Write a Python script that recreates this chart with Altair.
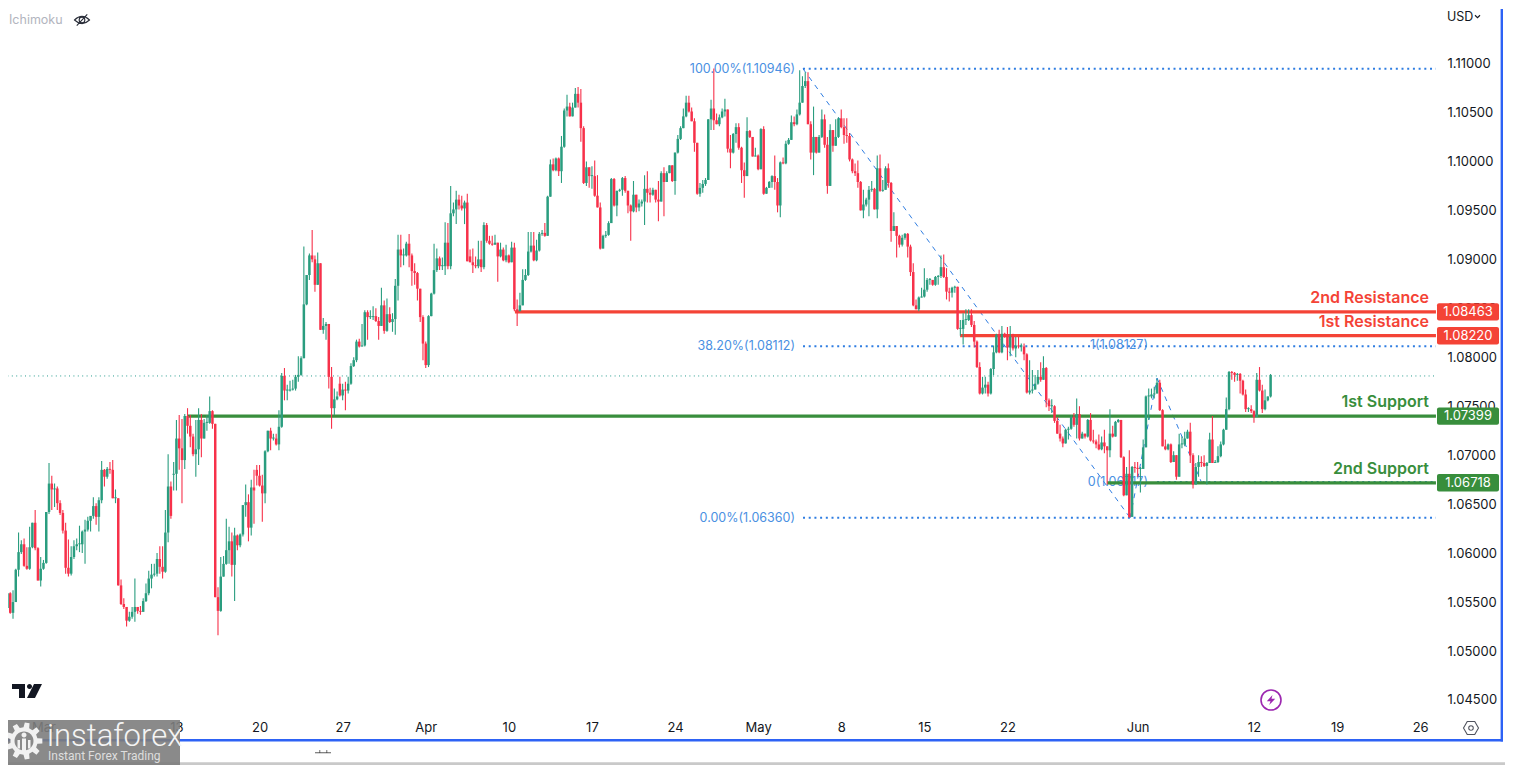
import math
import altair as alt
import pandas as pd

# ---- candle data, in 0.0001 price units (EURUSD 4H) ----
closes = [
10544,10559,10539,10550,10583,10601,10609,10587,10584,10606,
10631,10605,10572,10584,10590,10642,10671,10665,10666,10651,
10641,10623,10585,10579,10596,10607,10609,10609,10622,10624,
10633,10638,10648,10637,10654,10685,10678,10686,10685,10656,
10656,10567,10548,10545,10531,10535,10540,10545,10541,10540,
10551,10559,10574,10578,10579,10594,10586,10581,10621,10668,
10638,10681,10717,10707,10695,10740,10730,10719,10701,10706,
10736,10717,10733,10733,10745,10732,10555,10541,10576,10589,
10603,10612,10588,10618,10608,10619,10649,10652,10626,10667,
10664,10679,10669,10661,10704,10725,10717,10717,10711,10729,
10781,10766,10766,10767,10768,10780,10782,10799,10854,10884,
10904,10900,10874,10896,10828,10832,10834,10780,10748,10757,
10760,10761,10767,10766,10773,10791,10797,10816,10811,10812,
10846,10841,10841,10842,10837,10832,10853,10827,10844,10836,
10839,10873,10910,10904,10904,10916,10904,10888,10886,10870,
10841,10814,10792,10842,10865,10889,10901,10893,10893,10917,
10893,10947,10951,10961,10955,10952,10958,10898,10897,10894,
10893,10900,10892,10935,10919,10916,10915,10917,10903,10910,
10899,10904,10897,10912,10849,10847,10853,10879,10884,10908,
10914,10899,10909,10926,10927,10924,10964,10997,10991,11003,
10990,11015,11052,11056,11046,11055,11069,11060,11034,10978,
10994,10985,10985,10965,10953,10911,10924,10925,10937,10982,
10955,10970,10971,10983,10970,10955,10949,10966,10953,10957,
10959,10972,10968,10966,10971,10961,10959,10988,10979,10988,
10996,
10980,11009,11023,11034,11046,11060,11051,11041,11019,10967,
10973,10977,10981,11043,11054,11042,11038,11045,11051,11053,
11013,11009,11028,11035,11014,10991,10985,11031,11025,11005,
11006,10992,11033,10967,10973,10979,10985,10979,10955,10999,
10998,11018,11022,11040,11038,11048,11060,11077,11082,11038,
11009,11025,11009,11025,11043,11017,10975,11032,11016,11025,
11044,11035,11027,11026,11002,10990,10988,10979,10950,10956,
10961,10971,10972,10951,10993,10970,10971,10993,10978,10929,
10934,10924,10915,10922,10926,10913,10887,10853,10849,10861,
10862,10869,10879,10879,10874,10882,10883,10892,10882,10867,
10866,10871,10872,10829,10829,10838,10838,10843,10833,10816,
10790,10763,10769,10772,10763,10788,10805,10823,10805,10824,
10821,10810,10821,10809,10812,10811,10811,10803,10764,10766,
10767,10773,10780,10777,10789,10756,10750,10750,10735,10722,
10717,10712,10726,10727,10739,10731,10742,10717,10722,10719,
10736,10715,10714,10711,10706,10713,10709,10705,10722,10719,
10734,10736,10698,10659,10681,10637,10688,10687,10686,10686,
10708,10760,10760,10762,10763,10774,10746,10709,10706,10711,
10693,10700,10678,10711,10711,10717,10724,10700,10670,
10688,10693,10692,10689,10692,10716,10692,10693,10699,10711,
10726,10747,10785,10784,10782,10783,10776,10762,10747,10747,
10745,10739,10777,10766,10747,10756,10760,10782]

highs = [
10555,10559,10560,10562,10584,10621,10613,10615,10606,10627,
10631,10644,10606,10596,10593,10642,10692,10679,10671,10668,
10654,10644,10631,10614,10607,10613,10615,10628,10623,10634,
10637,10638,10657,10651,10657,10694,10686,10688,10693,10695,
10665,10656,10573,10554,10545,10540,10545,10574,10545,10546,
10554,10569,10582,10589,10589,10600,10607,10607,10644,10701,
10673,10693,10736,10741,10737,10742,10748,10741,10722,10736,
10748,10742,10737,10741,10760,10746,10732,10565,10596,10597,
10635,10627,10621,10626,10619,10620,10649,10670,10660,10675,
10685,10690,10690,10680,10705,10725,10728,10722,10722,10746,
10784,10789,10772,10776,10777,10782,10801,10801,10913,10884,
10906,10930,10904,10907,10896,10840,10836,10834,10790,10768,
10765,10780,10773,10775,10780,10794,10800,10818,10819,10834,
10848,10848,10848,10852,10850,10841,10871,10858,10860,10851,
10845,10880,10925,10925,10911,10918,10926,10906,10896,10887,
10870,10843,10816,10843,10866,10916,10911,10903,10902,10938,
10937,10975,10958,10970,10966,10965,10960,10967,10910,10911,
10903,10919,10919,10938,10937,10924,10924,10925,10917,10917,
10912,10915,10905,10918,10917,10859,10866,10890,10890,10928,
10928,10928,10920,10928,10930,10937,10965,11002,11003,11004,
11004,11026,11054,11068,11060,11060,11075,11076,11074,11036,
11000,10993,10995,11001,10986,10958,10925,10929,10939,10983,
10983,10970,10972,10984,10985,10970,10956,10980,10966,10961,
10961,10986,10990,10973,10973,10971,10980,10990,10994,10990,
10996,
10996,11009,11027,11036,11054,11067,11067,11055,11044,11019,
10978,10981,10983,11043,11063,11095,11049,11048,11054,11064,
11053,11027,11029,11039,11039,11015,10999,11045,11032,11025,
11014,11007,11034,11036,10974,10980,10986,11006,10983,11000,
11004,11021,11024,11047,11046,11053,11093,11087,11091,11091,
11041,11056,11025,11027,11053,11048,11025,11038,11032,11043,
11045,11053,11044,11044,11029,11003,10998,11001,10980,10971,
10963,10975,10980,10973,11006,11007,10981,10995,10998,10979,
10948,10934,10925,10925,10927,10927,10915,10896,10859,10862,
10871,10891,10881,10881,10879,10883,10884,10904,10905,10891,
10871,10872,10873,10866,10838,10845,10849,10849,10849,10837,
10817,10795,10780,10780,10775,10789,10812,10824,10828,10832,
10825,10831,10832,10824,10821,10821,10814,10814,10804,10797,
10787,10782,10787,10795,10801,10790,10758,10757,10751,10739,
10731,10719,10727,10729,10741,10743,10758,10750,10724,10722,
10737,10743,10726,10716,10721,10719,10726,10709,10747,10730,
10735,10737,10736,10699,10688,10705,10689,10693,10693,10688,
10716,10761,10768,10768,10770,10778,10777,10747,10716,10712,
10712,10704,10700,10722,10719,10724,10726,10733,10702,
10692,10700,10699,10700,10693,10723,10740,10695,10709,10714,
10727,10759,10786,10786,10785,10784,10784,10777,10767,10749,
10751,10746,10784,10790,10772,10767,10760,10783]

lows = [
10543,10542,10538,10533,10550,10576,10599,10586,10583,10583,
10605,10603,10572,10566,10583,10589,10640,10644,10647,10644,
10639,10620,10579,10576,10577,10594,10603,10601,10600,10589,
10622,10622,10635,10629,10622,10651,10668,10676,10681,10656,
10651,10567,10547,10543,10525,10530,10533,10530,10538,10537,
10540,10550,10557,10564,10576,10576,10579,10574,10580,10611,
10635,10664,10664,10685,10651,10686,10722,10708,10699,10678,
10690,10698,10717,10725,10732,10727,10555,10516,10540,10576,
10588,10589,10576,10551,10603,10606,10617,10637,10612,10618,
10630,10669,10668,10632,10651,10703,10705,10715,10710,10705,
10728,10756,10756,10765,10766,10766,10775,10781,10799,10853,
10879,10897,10867,10874,10828,10824,10818,10768,10727,10741,
10756,10760,10756,10746,10763,10772,10790,10795,10810,10811,
10811,10818,10839,10838,10836,10818,10832,10824,10826,10835,
10826,10823,10858,10892,10894,10903,10892,10873,10874,10858,
10836,10797,10789,10790,10842,10864,10887,10889,10889,10884,
10890,10890,10944,10936,10951,10950,10936,10898,10897,10886,
10891,10891,10887,10890,10917,10915,10914,10915,10877,10902,
10898,10897,10896,10897,10847,10832,10849,10853,10878,10883,
10907,10898,10898,10908,10924,10923,10924,10964,10990,10990,
10985,10978,11014,11046,11046,11046,11055,11055,11020,10977,
10975,10973,10972,10964,10953,10910,10911,10922,10924,10937,
10954,10944,10969,10965,10968,10947,10919,10948,10948,10949,
10954,10935,10958,10958,10965,10958,10939,10959,10944,10979,
10988,
10979,10966,11008,11022,11034,11045,11050,11046,11010,10966,
10964,10968,10975,10981,11032,11032,11038,11036,11044,11046,
11009,10993,11008,11019,11012,10978,10963,10985,11024,11005,
11005,10991,10992,10966,10967,10973,10973,10971,10948,10943,
10997,10997,11017,11022,11036,11037,11047,11060,11075,11038,
11002,10986,11008,11009,11024,11014,10967,10975,11010,11019,
11024,11034,11018,11019,11000,10988,10985,10973,10950,10942,
10954,10944,10969,10951,10942,10969,10969,10978,10973,10918,
10929,10902,10912,10913,10920,10902,10883,10852,10849,10847,
10861,10861,10867,10874,10873,10873,10874,10881,10881,10859,
10857,10861,10866,10828,10822,10813,10833,10837,10831,10810,
10789,10762,10762,10763,10760,10762,10782,10804,10804,10804,
10820,10797,10801,10807,10800,10809,10806,10797,10763,10762,
10763,10767,10772,10775,10777,10749,10745,10743,10733,10722,
10714,10708,10712,10716,10726,10729,10717,10715,10717,10717,
10718,10714,10712,10707,10705,10705,10702,10670,10698,10718,
10719,10733,10697,10658,10659,10636,10637,10682,10678,10662,
10686,10708,10736,10758,10758,10763,10745,10709,10705,10705,
10692,10693,10675,10678,10707,10709,10717,10692,10666,
10675,10678,10688,10688,10670,10692,10692,10692,10692,10698,
10710,10726,10746,10777,10775,10776,10763,10761,10744,10744,
10743,10733,10739,10765,10743,10746,10755,10759]

# bars whose open does not sit on the previous close
open_gaps = {61: 10680, 91: 10685, 121: 10773, 168: 10903}

# ---- axes ----
price_ticks = [1.045, 1.05, 1.055, 1.06, 1.065, 1.07, 1.075, 1.08, 1.085, 1.09, 1.095, 1.10, 1.105, 1.11]
date_labels = ["Mar", "13", "20", "27", "Apr", "10", "17", "24", "May", "8", "15", "22", "Jun", "12", "19", "26"]
date_bars = [14, 62, 92, 122, 152, 182, 212, 242, 272, 302, 332, 362, 409, 451, 481, 511]

# ---- levels ----
level_names = ["2nd Resistance", "1st Resistance", "1st Support", "2nd Support"]
level_prices = [1.08463, 1.08220, 1.07399, 1.06718]
level_start_bar = [184.2, 344.9, 65.8, 398.0]
level_colors = ["#f44336", "#f44336", "#388e3c", "#388e3c"]
last_price = 1.07809
END_BAR = 516.7

# ---- fibonacci drawings ----
fib_prices = [1.10946, 1.08112, 1.06360]
fib_labels = ["100.00%(1.10946)", "38.20%(1.08112)", "0.00%(1.06360)"]
fib_start_bar = 288.2
fib2_prices = [1.08127, 1.06727]
fib2_labels = ["1(1.08127)", "0(1.06717)"]
fib2_start_bar = 416.0
fib_diag_bars = [288.2, 406.3, 406.3, 416.0, 416.0, 432.0]
fib_diag_prices = [1.10946, 1.06360, 1.06360, 1.07788, 1.07788, 1.06726]

# ---- layout ----
W, H = 1497, 757
X0, STEP = 4.7, 2.77
PPP = 9792.0   # pixels per price unit
def bar_at(px):
    return (px - X0) / STEP
def price_at(py):
    return 1.11 - (py - 63.5) / PPP
xs = alt.Scale(domain=[bar_at(8), bar_at(8 + W)], nice=False, zero=False)
ys = alt.Scale(domain=[price_at(8 + H), price_at(8)], nice=False, zero=False)

FONT = "Inter"
UP, DOWN = "#2a9d7f", "#f7314a"
BLUE = "#2f7de1"
FIBTXT = "#4a90e2"
INK = "#131722"

n = len(closes)
opens = [closes[0] + 5] + closes[:-1]
for k, v in open_gaps.items():
    opens[k] = v
rows = []
for i in range(n):
    o, c = opens[i], closes[i]
    hi = max(highs[i], o, c)
    lo = min(lows[i], o, c)
    top, bot = max(o, c), min(o, c)
    if top == bot:
        top += 1
    rows.append(dict(i=i, o=o / 1e4, c=c / 1e4, h=hi / 1e4, l=lo / 1e4, top=top / 1e4, bot=bot / 1e4,
                     d="up" if c >= o else "down"))
candles = pd.DataFrame(rows)

color = alt.Color("d:N", scale=alt.Scale(domain=["up", "down"], range=[UP, DOWN]), legend=None)
month_test = "indexof(['Mar','Apr','May','Jun'], datum.label) >= 0"

label_map = "{" + ",".join(f"'{b}':'{t}'" for b, t in zip(date_bars, date_labels)) + "}"
x_axis = alt.Axis(values=date_bars, labelExpr=f"{label_map}[datum.value]", orient="bottom", offset=-46,
                  ticks=False, domain=False, grid=False, title=None, labelPadding=2, labelFontSize=13,
                  labelFont=FONT, labelColor=INK, labelFlush=False, labelOverlap=False,
                  labelFontWeight={"condition": {"test": month_test, "value": 600}, "value": 400})
y_axis = alt.Axis(values=price_ticks, format=".5f", orient="right", offset=-58, ticks=False, domain=False,
                  grid=False, title=None, labelPadding=0, labelFontSize=13, labelFont=FONT, labelColor=INK,
                  labelFlush=False, labelOverlap=False)

def XF(f):
    return alt.X(f, scale=xs, axis=x_axis)
def YF(f):
    return alt.Y(f, scale=ys, axis=y_axis)
X = XF("x:Q")
Y = YF("p:Q")

def hline(starts, prices, color_, width, dash=None, end=END_BAR):
    df = pd.DataFrame({"x": starts, "x2": [end] * len(starts), "p": prices})
    kw = dict(color=color_, strokeWidth=width)
    if dash:
        kw["strokeDash"] = dash
    return alt.Chart(df).mark_rule(**kw).encode(x=X, x2="x2:Q", y=Y)

def text(t, px, py, color_, size, weight=400, align="left", font=FONT, opacity=1.0):
    return alt.Chart(pd.DataFrame({"t": [t]})).mark_text(
        color=color_, fontSize=size, fontWeight=weight, align=align, baseline="middle", font=font, opacity=opacity
    ).encode(text="t:N", x=alt.value(px - 8), y=alt.value(py - 8))

def box(x1, x2, y1, y2, color_, opacity=1.0, radius=0):
    return alt.Chart(pd.DataFrame({"a": [0]})).mark_rect(color=color_, opacity=opacity, cornerRadius=radius).encode(
        x=alt.value(x1 - 8), x2=alt.value(x2 - 8), y=alt.value(y1 - 8), y2=alt.value(y2 - 8))

def icon(path, px, py, d, fill=None, stroke=None, width=1.0):
    kw = dict(shape=path, size=d * d, opacity=1)
    if fill:
        kw.update(filled=True, fill=fill, strokeWidth=0)
    else:
        kw.update(filled=False, stroke=stroke, strokeWidth=width)
    return alt.Chart(pd.DataFrame({"a": [0]})).mark_point(**kw).encode(x=alt.value(px - 8), y=alt.value(py - 8))

layers = []

# last-price dotted line
layers.append(hline([bar_at(3)], [last_price], "#2a9d8f", 1, dash=[1, 3.4]))

# fib dotted lines + labels + diagonals
layers.append(hline([fib_start_bar] * 3, fib_prices, BLUE, 2, dash=[2, 3.7]))
layers.append(hline([fib2_start_bar], [fib2_prices[1]], BLUE, 2, dash=[2, 3.7]))
diag = pd.DataFrame({"x": fib_diag_bars[0::2], "x2": fib_diag_bars[1::2],
                     "p": fib_diag_prices[0::2], "p2": fib_diag_prices[1::2]})
layers.append(alt.Chart(diag).mark_rule(color=BLUE, strokeWidth=1, strokeDash=[5, 5]).encode(x=X, x2="x2:Q", y=Y, y2="p2:Q"))
fibt = pd.DataFrame({"x": [fib_start_bar - 2.9] * 3, "p": fib_prices, "t": fib_labels})
layers.append(alt.Chart(fibt).mark_text(color=FIBTXT, fontSize=12.5, align="right", baseline="middle", font=FONT)
              .encode(x=X, y=Y, text="t:N"))
fibt2 = pd.DataFrame({"x": [bar_at(1148)] * 2, "p": [1.08127, 1.06727], "t": fib2_labels})
layers.append(alt.Chart(fibt2).mark_text(color=FIBTXT, fontSize=12.5, align="right", baseline="middle", font=FONT)
              .encode(x=X, y=Y, text="t:N"))

# levels
lv = pd.DataFrame({"x": level_start_bar, "x2": [END_BAR] * 4, "p": level_prices, "c": level_colors})
layers.append(alt.Chart(lv).mark_rule(strokeWidth=3.2).encode(
    x=X, x2="x2:Q", y=Y, color=alt.Color("c:N", scale=None)))

# candles
wicks = alt.Chart(candles).mark_rule(strokeWidth=1.1).encode(
    x=XF("i:Q"), y=YF("h:Q"), y2="l:Q", color=color)
bodies = alt.Chart(candles).mark_rule(strokeWidth=2.5).encode(
    x=XF("i:Q"), y=YF("top:Q"), y2="bot:Q", color=color)
layers += [wicks, bodies]

# level captions and price tags
cap_rows = pd.DataFrame({"p": level_prices, "t": level_names, "c": level_colors,
                         "x": [bar_at(1429)] * 4, "tag": [f"{v:.5f}" for v in level_prices]})
cap_rows["cp"] = cap_rows["p"] + 14.0 / PPP
layers.append(alt.Chart(cap_rows).mark_text(fontSize=16, fontWeight=600, font=FONT, align="right", baseline="middle").encode(
    x=X, y=YF("cp:Q"), text="t:N", color=alt.Color("c:N", scale=None)))
tag = cap_rows.copy()
tag["x"] = bar_at(1437)
tag["x2"] = bar_at(1499)
tag["p1"] = tag["p"] - 8.7 / PPP
tag["p2"] = tag["p"] + 8.7 / PPP
layers.append(alt.Chart(tag).mark_rect(cornerRadius=2).encode(
    x=X, x2="x2:Q", y=YF("p1:Q"), y2="p2:Q", color=alt.Color("c:N", scale=None)))
tag["xm"] = bar_at(1468)
layers.append(alt.Chart(tag).mark_text(color="white", fontSize=13, font=FONT, align="center", baseline="middle").encode(
    x=XF("xm:Q"), y=Y, text="tag:N"))

# header
layers.append(text("Ichimoku", 9, 20, "#b2b5be", 12.5))
layers.append(icon("M-1 0 Q0 -.95 1 0 Q0 .95 -1 0 Z M.38 0 A.38 .38 0 1 1 -.38 0 A.38 .38 0 1 1 .38 0 Z M-.7 .75 L.7 -.75",
                   82, 20, 15, stroke="#2a2e39", width=1.1))
layers.append(text("USD", 1447, 17, INK, 12.5))
layers.append(icon("M-1 -.5 L0 .5 L1 -.5", 1477.5, 16.5, 5, stroke=INK, width=1.1))

# chrome: logo, bolt, settings
layers.append(icon("M-1 -.467 H-.133 V.467 H-.533 V-.133 H-1 Z M.467 -.467 H1 L.533 .467 H0 Z "
                   "M.0 -.3 A.167 .167 0 1 1 .334 -.3 A.167 .167 0 1 1 .0 -.3 Z", 27, 691, 30, fill=INK))
layers.append(icon("M1 0 A1 1 0 1 1 -1 0 A1 1 0 1 1 1 0 Z", 1271, 700, 20, stroke="#9c27b0", width=1.6))
layers.append(icon("M.15 -.5 L-.42 .12 L-.05 .12 L-.18 .5 L.42 -.12 L.05 -.12 Z", 1271, 700, 20, fill="#9c27b0"))
layers.append(icon("M-1 0 L-.5 -.87 L.5 -.87 L1 0 L.5 .87 L-.5 .87 Z M.3 0 A.3 .3 0 1 1 -.3 0 A.3 .3 0 1 1 .3 0 Z",
                   1471, 728, 15, stroke="#50535e", width=1.1))

# blue frame
layers.append(box(3, 1503, 739, 741.6, "#2d62f5"))
layers.append(box(1500.6, 1503, 9, 741.6, "#2d62f5"))
# faint artefacts under the frame and the page edge
layers.append(box(315, 331, 752.4, 753.2, "#333333"))
layers.append(box(319.5, 320.2, 750, 753, "#333333"))
layers.append(box(326.5, 327.2, 750, 753, "#333333"))
layers.append(box(8, 1505, 762.3, 765, "#c9c9c9"))

# watermark
layers.append(box(0, 180, 720, 765, "#7d7d7d", opacity=0.9))
pts = []
teeth = 9
for k in range(teeth):
    a = 2 * math.pi * k / teeth
    for da, r in [(-0.21, .74), (-0.13, 1.0), (0.13, 1.0), (0.21, .74)]:
        pts.append((r * math.cos(a + da), r * math.sin(a + da)))
gear = "M" + " L".join(f"{p:.3f} {q:.3f}" for p, q in pts) + " Z"
layers.append(icon(gear, 24, 741, 37, fill="#f1f1f1"))
layers.append(icon("M1 0 A1 1 0 1 1 -1 0 A1 1 0 1 1 1 0 Z", 24, 741, 19, fill="#8a8a8a"))
layers.append(icon("M-.2 -.25 H.2 V1 H-.2 Z M-.65 -.1 H-.4 V.75 H-.65 Z M.4 -.1 H.65 V.75 H.4 Z", 24, 741, 20, fill="#f1f1f1"))
layers.append(icon("M.25 -.6 A.25 .25 0 1 1 -.25 -.6 A.25 .25 0 1 1 .25 -.6 Z", 24, 741, 20, fill="#f1f1f1"))
layers.append(text("instaforex", 47, 737, "#f4f4f4", 31, weight=300, font="Roboto"))
layers.append(text("Instant Forex Trading", 48, 756, "#dedede", 12, font="Roboto"))

chart = alt.layer(*layers).properties(
    width=W, height=H, padding=0, autosize=alt.AutoSizeParams(type="none"),
    background="white"
).configure_view(stroke=None)

chart.save("out.html", embed_options={"renderer": "svg", "actions": False})
